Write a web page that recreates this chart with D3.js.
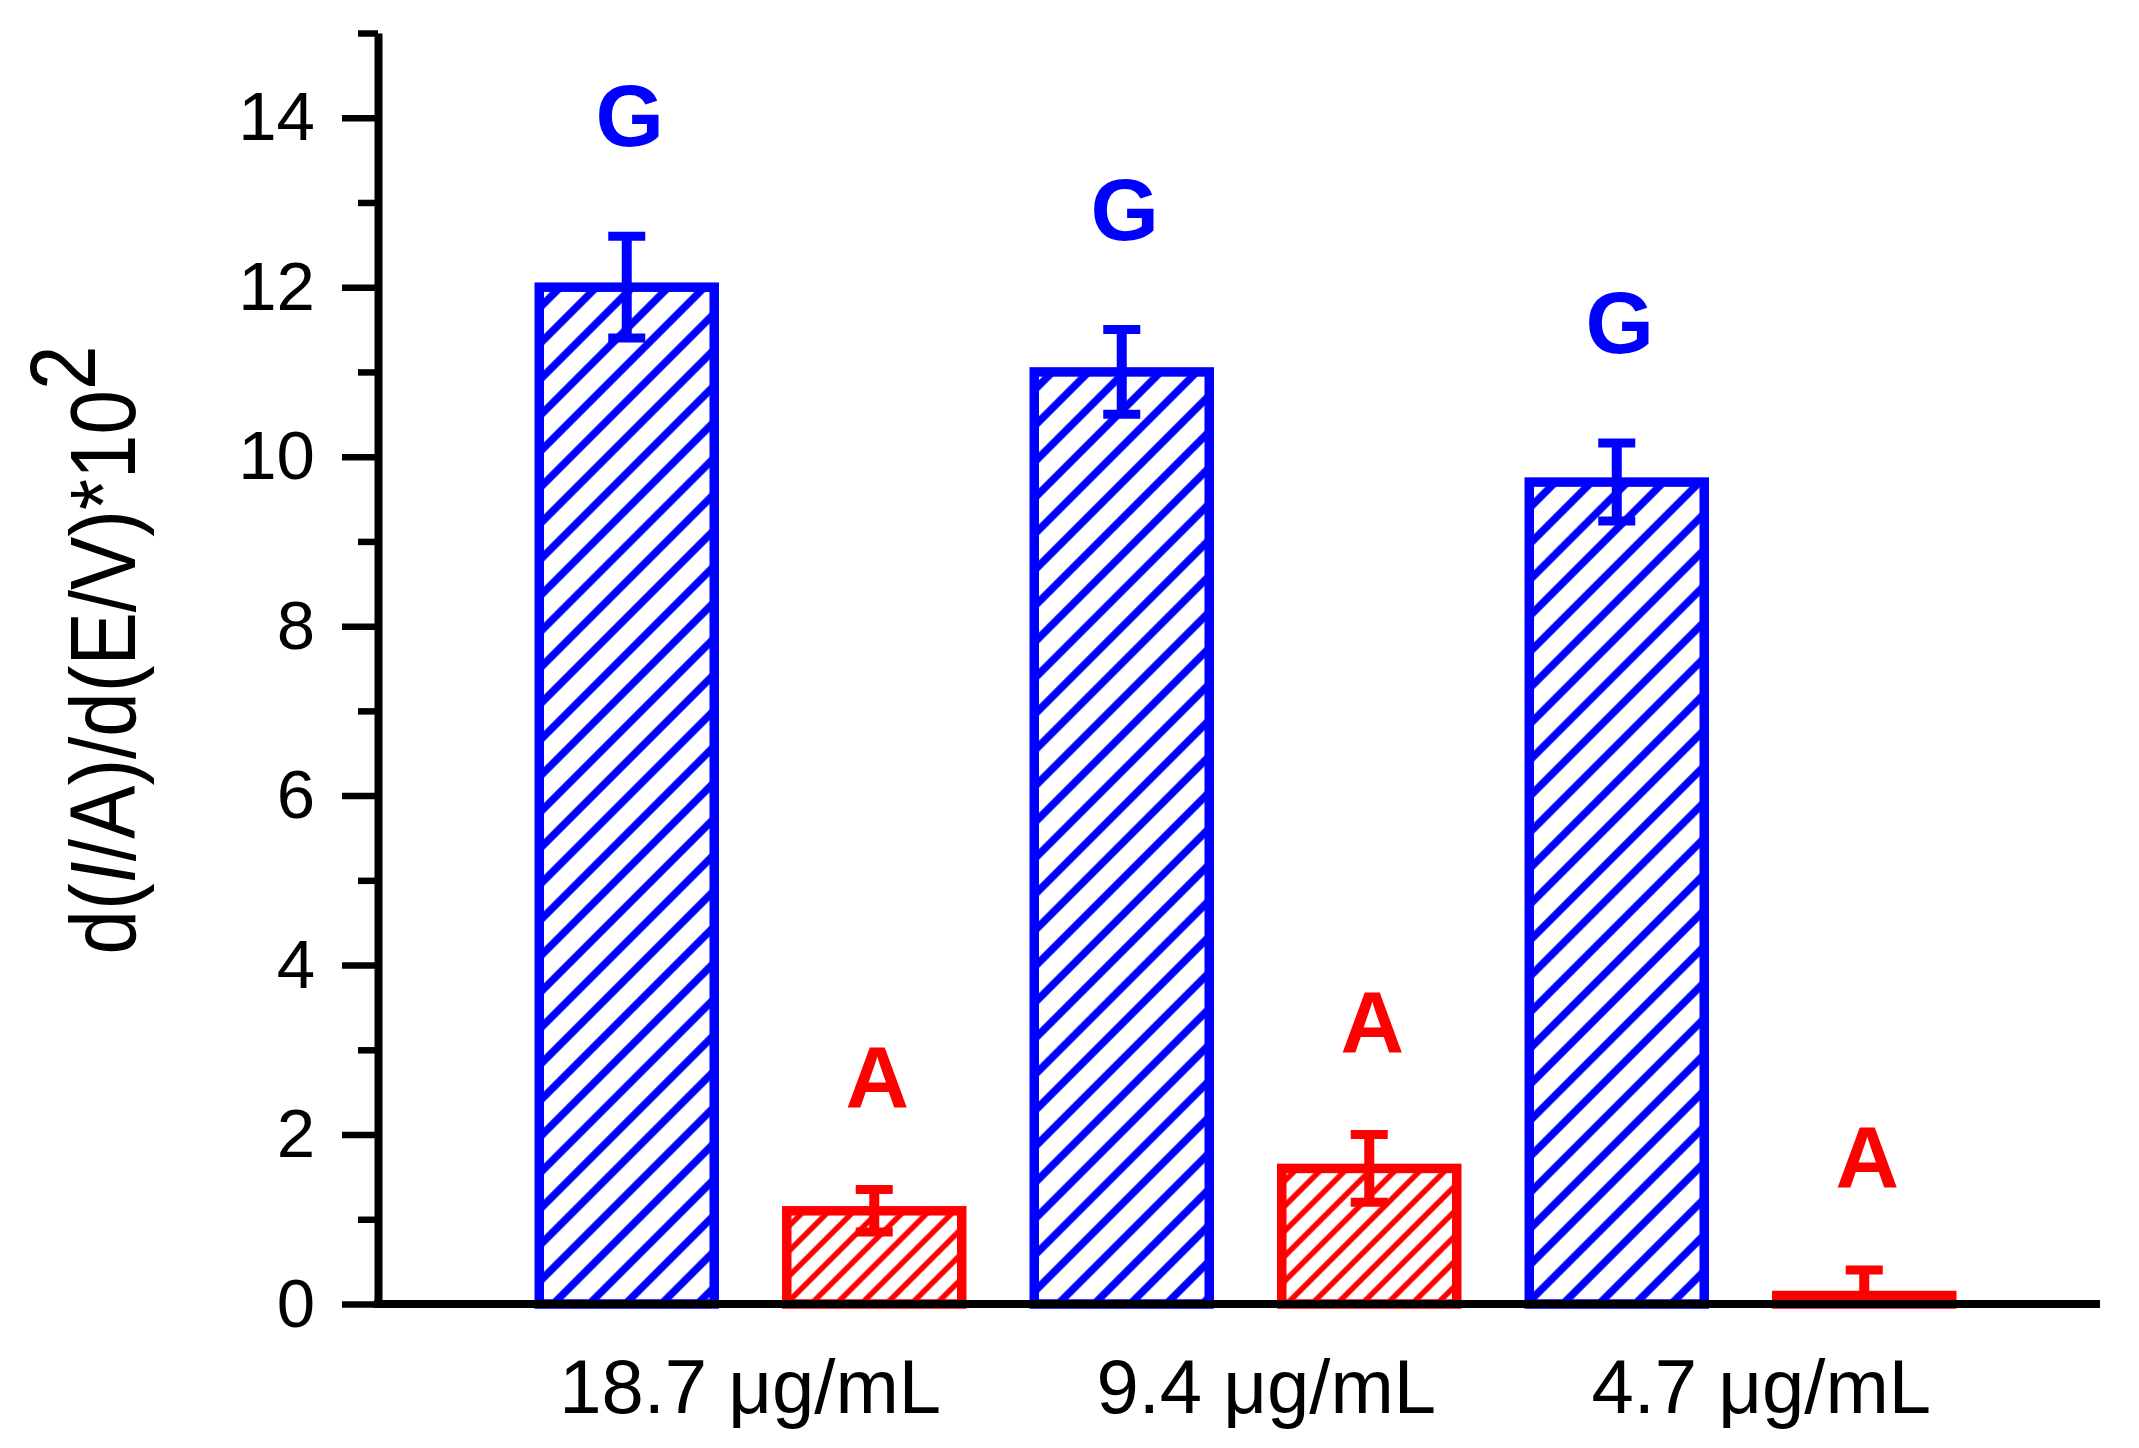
<!DOCTYPE html>
<html lang="en">
<head>
<meta charset="utf-8">
<style type="text/css">
    body { margin: 0; background: #fff; }
    .tick_text { font-family: "Liberation Sans", Arial, sans-serif; font-size: 69px; fill: black; }
    .cat_text { font-family: "Liberation Sans", Arial, sans-serif; font-size: 76px; fill: black; }
    .title_text { font-family: "Liberation Sans", Arial, sans-serif; font-size: 80px; fill: black; }
    .mark_text { font-family: "Liberation Sans", Arial, sans-serif; font-size: 88px; font-weight: bold; }
</style>
</head>
<body>
<div id="graph"></div>
<script src="https://cdn.jsdelivr.net/npm/d3@7"></script>
<script type="text/javascript">
    // data
    var concentrations = ["18.7 \u03bcg/mL", "9.4 \u03bcg/mL", "4.7 \u03bcg/mL"];
    var series = ["G", "A"];
    var gValues = [12.0, 11.0, 9.7];
    var gErrors = [0.6, 0.5, 0.46];
    var aValues = [1.1, 1.6, 0.1];
    var aErrors = [0.25, 0.4, 0.3];
    var majorTicks = [0, 2, 4, 6, 8, 10, 12, 14];
    var minorTicks = [1, 3, 5, 7, 9, 11, 13, 15];

    var colors = {G: "#0000ff", A: "#ff0000"};
    var hatchGap = {G: 25.5, A: 17.7};
    var hatchWidth = {G: 7.5, A: 5.5};
    var labelGap = {G: 90, A: 83};

    var W = 2139, H = 1448;
    var axisX = 378, axisBottom = 1304, axisTop = 33, axisRight = 2100;

    var rows = [];
    concentrations.forEach(function(c, i) {
        rows.push({conc: c, s: "G", value: gValues[i], err: gErrors[i]});
        rows.push({conc: c, s: "A", value: aValues[i], err: aErrors[i]});
    });

    var svg = d3.select("#graph").append("svg")
        .attr("width", W)
        .attr("height", H)
        .style("background", "#fff");

    var y = d3.scaleLinear().domain([0, 15]).range([axisBottom, axisTop]);
    var x0 = d3.scaleBand().domain(concentrations).range([503, 1988]);
    var x1 = d3.scaleBand().domain(series).range([0, x0.bandwidth()])
        .paddingInner(0.293).paddingOuter(0.1465);

    // hatch patterns
    var defs = svg.append("defs");
    series.forEach(function(s) {
        var p = defs.append("pattern")
            .attr("id", "hatch" + s)
            .attr("patternUnits", "userSpaceOnUse")
            .attr("width", hatchGap[s])
            .attr("height", hatchGap[s])
            .attr("patternTransform", "rotate(45)");
        p.append("rect").attr("width", hatchGap[s]).attr("height", hatchGap[s]).attr("fill", "#fff");
        p.append("line")
            .attr("x1", hatchGap[s] / 2).attr("x2", hatchGap[s] / 2)
            .attr("y1", -2).attr("y2", hatchGap[s] + 2)
            .attr("stroke", colors[s])
            .attr("stroke-width", hatchWidth[s]);
    });

    // bars
    svg.append("g").selectAll("rect")
        .data(rows)
        .enter()
        .append("rect")
        .attr("x", function(d) { return x0(d.conc) + x1(d.s); })
        .attr("y", function(d) { return y(d.value); })
        .attr("width", x1.bandwidth())
        .attr("height", function(d) { return y(0) - y(d.value); })
        .attr("fill", function(d) { return "url(#hatch" + d.s + ")"; })
        .attr("stroke", function(d) { return colors[d.s]; })
        .attr("stroke-width", 9.5);

    // error bars
    var eb = svg.append("g").selectAll("g")
        .data(rows)
        .enter()
        .append("g")
        .attr("stroke", function(d) { return colors[d.s]; })
        .attr("transform", function(d) {
            return "translate(" + (x0(d.conc) + x1(d.s) + x1.bandwidth() / 2) + ",0)";
        });
    eb.append("line")
        .attr("y1", function(d) { return y(d.value + d.err); })
        .attr("y2", function(d) { return y(Math.max(0, d.value - d.err)); })
        .attr("stroke-width", 10);
    eb.append("line")
        .attr("x1", -18.5).attr("x2", 18.5)
        .attr("y1", function(d) { return y(d.value + d.err); })
        .attr("y2", function(d) { return y(d.value + d.err); })
        .attr("stroke-width", 9);
    eb.filter(function(d) { return d.value - d.err > 0; })
        .append("line")
        .attr("x1", -18.5).attr("x2", 18.5)
        .attr("y1", function(d) { return y(d.value - d.err); })
        .attr("y2", function(d) { return y(d.value - d.err); })
        .attr("stroke-width", 9);

    // letters above bars
    svg.append("g").selectAll("text")
        .data(rows)
        .enter()
        .append("text")
        .attr("class", "mark_text")
        .attr("x", function(d) { return x0(d.conc) + x1(d.s) + x1.bandwidth() / 2 + 3; })
        .attr("y", function(d) { return y(d.value + d.err) - labelGap[d.s]; })
        .attr("text-anchor", "middle")
        .attr("fill", function(d) { return colors[d.s]; })
        .text(function(d) { return d.s; });

    // y axis
    var yAxis = svg.append("g")
        .attr("transform", "translate(" + axisX + ",0)")
        .call(d3.axisLeft(y).tickValues(majorTicks).tickSize(36).tickSizeOuter(0).tickPadding(27).tickFormat(d3.format("d")));
    yAxis.select(".domain").attr("stroke-width", 8).attr("stroke", "#000");
    yAxis.selectAll(".tick line").attr("stroke-width", 6.5).attr("stroke", "#000");
    yAxis.selectAll(".tick text").attr("class", "tick_text").attr("font-family", null).attr("font-size", null);

    var yMinor = svg.append("g")
        .attr("transform", "translate(" + axisX + ",0)")
        .call(d3.axisLeft(y).tickValues(minorTicks).tickSize(20).tickSizeOuter(0).tickFormat(""));
    yMinor.select(".domain").remove();
    yMinor.selectAll(".tick line").attr("stroke-width", 6.5).attr("stroke", "#000");

    // x axis line
    svg.append("line")
        .attr("x1", axisX - 4).attr("x2", axisRight)
        .attr("y1", y(0)).attr("y2", y(0))
        .attr("stroke", "#000")
        .attr("stroke-width", 8);

    // category labels, right-aligned inside each group
    svg.append("g").selectAll("text")
        .data(concentrations)
        .enter()
        .append("text")
        .attr("class", "cat_text")
        .attr("x", function(d) { return x0(d) + x0.bandwidth() - 57; })
        .attr("y", 1413)
        .attr("text-anchor", "end")
        .text(function(d) { return d; });

    // y title
    var title = svg.append("text")
        .attr("class", "title_text")
        .attr("text-anchor", "middle")
        .attr("transform", "translate(135,650) rotate(-90) scale(1,1.15)");
    title.append("tspan").text("d(");
    title.append("tspan").attr("font-style", "italic").text("I");
    title.append("tspan").text("/A)/d(E/V)*10");
    title.append("tspan").attr("dy", -35).text("2");
</script>
</body>
</html>
